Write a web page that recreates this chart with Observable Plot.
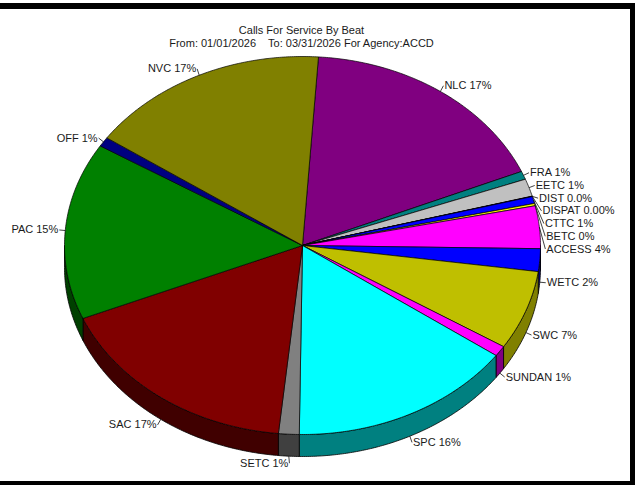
<!DOCTYPE html>
<html>
<head>
<meta charset="utf-8">
<script src="https://cdn.jsdelivr.net/npm/d3@7"></script>
<script src="https://cdn.jsdelivr.net/npm/@observablehq/plot@0.6"></script>
<style>
  html, body { margin: 0; padding: 0; background: #fff; }
  #wrap { position: relative; width: 637px; height: 485px; overflow: hidden; }
  #frame { position: absolute; left: -10px; top: 3px; width: 645px; height: 482px; box-sizing: border-box;
           border-top: 6px solid #000; border-right: 5px solid #000; border-bottom: 4px solid #000; pointer-events: none; }
</style>
</head>
<body>
<div id="wrap"><div id="chart"></div><div id="frame"></div></div>
<script>
// ---- data ----
const beats = ["NLC","FRA","EETC","DIST","DISPAT","CTTC","BETC","ACCESS","WETC","SWC","SUNDAN","SPC","SETC","SAC","PAC","OFF","NVC"];
const shares = [17.53,0.7,1.5,0.03,0.003,0.6,0.2,3.64,1.94,6.78,0.9,15.33,1.4,17.08,15.14,0.81,16.43];
const pctLabels = ["17%","1%","1%","0.0%","0.00%","1%","0%","4%","2%","7%","1%","16%","1%","17%","15%","1%","17%"];
const titleText = "Calls For Service By Beat";
const subtitleText = "From: 01/01/2026\u00a0\u00a0\u00a0 To: 03/31/2026 For Agency:ACCD";

// ---- styles ----
const baseColors = {NLC:"#800080", FRA:"#008080", EETC:"#c0c0c0", DIST:"#ff0000", DISPAT:"#00ff00", CTTC:"#0000ff",
  BETC:"#ffff00", ACCESS:"#ff00ff", WETC:"#0000ff", SWC:"#ffff00", SUNDAN:"#ff00ff", SPC:"#00ffff", SETC:"#808080",
  SAC:"#800000", PAC:"#008000", OFF:"#000080", NVC:"#808000"};
const topFill = name => name === "SWC" ? "url(#swcPattern)" : baseColors[name];
const sideFill = name => { const c = d3.rgb(baseColors[name]); return d3.rgb(c.r/2, c.g/2, c.b/2).formatHex(); };

// ---- layout ----
const W = 637, H = 485, CX = 302, CY = 245, RX = 238, RY = 189, DEPTH = 22, START = 3.85;
const rad = d => d * Math.PI / 180;
const P = (deg, off = 0) => ({x: CX + RX * Math.sin(rad(deg)), y: CY - RY * Math.cos(rad(deg)) + off});
const total = d3.sum(shares);
let acc = START;
const slices = beats.map((name, i) => {
  const a0 = acc, a1 = acc + shares[i] / total * 360; acc = a1;
  return {name, i, a0, a1, mid: (a0 + a1) / 2};
});
function arc(a0, a1, off) {
  const n = Math.max(1, Math.ceil((a1 - a0) / 0.5));
  return d3.range(n + 1).map(k => P(a0 + (a1 - a0) * k / n, off));
}
const sidePts = [];
slices.forEach(s => {
  const b0 = Math.max(s.a0, 90), b1 = Math.min(s.a1, 270);
  if (b1 <= b0) return;
  const pts = [...arc(b0, b1, 0), ...arc(b0, b1, DEPTH).reverse()];
  pts.push(pts[0]);
  pts.forEach(p => sidePts.push({...p, id: s.name, fill: sideFill(s.name)}));
});
const topPts = [];
slices.forEach(s => {
  const c = {x: CX, y: CY};
  const pts = [c, ...arc(s.a0, s.a1, 0), c];
  pts.forEach(p => topPts.push({...p, id: s.name, fill: topFill(s.name)}));
});

// labels
const labels = slices.map(s => {
  const m = ((s.mid % 360) + 360) % 360;
  const front = m > 90 && m < 270;
  const a = P(m, front ? DEPTH : 0);
  const sx = Math.sin(rad(m)), cy = Math.cos(rad(m));
  return {name: s.name, text: s.name + " " + pctLabels[s.i], m, right: sx > 0, ax: a.x, ay: a.y,
          lx: a.x + 7 * sx, ly: a.y - 7 * cy};
});
const ellX = (y, side) => {
  const yy = y > CY ? y - DEPTH : y;
  const t = Math.min(1, Math.abs((CY - yy) / RY));
  return CX + side * RX * Math.sqrt(1 - t * t);
};
const GAP = 12.7;
const rightL = labels.filter(d => d.right).sort((a, b) => a.m - b.m);
let prev = -Infinity;
rightL.forEach(d => {
  if (d.ly < prev + GAP) { d.ly = prev + GAP; d.lx = Math.max(d.lx, ellX(d.ly, 1) + 6); }
  prev = d.ly;
});
const leftL = labels.filter(d => !d.right).sort((a, b) => b.m - a.m);
prev = -Infinity;
leftL.forEach(d => {
  if (d.ly < prev + GAP) { d.ly = prev + GAP; d.lx = Math.min(d.lx, ellX(d.ly, -1) - 6); }
  prev = d.ly;
});
labels.forEach(d => { d.ex = d.right ? d.lx - 1 : d.lx + 1; });

const chart = Plot.plot({
  width: W, height: H, margin: 0,
  style: {fontFamily: "'Liberation Sans', Arial, sans-serif", fontSize: "11px", background: "transparent", overflow: "visible"},
  x: {domain: [0, W], range: [0, W], axis: null},
  y: {domain: [0, H], range: [0, H], axis: null},
  color: {type: "identity"},
  marks: [
    Plot.line(sidePts, {x: "x", y: "y", z: "id", fill: "fill", stroke: "#000", strokeWidth: 0.8, curve: "linear"}),
    Plot.line(topPts, {x: "x", y: "y", z: "id", fill: "fill", stroke: "#000", strokeWidth: 0.7, curve: "linear"}),
    Plot.link(labels, {x1: "ax", y1: "ay", x2: "ex", y2: "ly", stroke: "#111", strokeWidth: 0.8}),
    Plot.text(labels.filter(d => d.right), {x: "lx", y: "ly", text: "text", textAnchor: "start", fill: "#1a1a1a", fontSize: 11}),
    Plot.text(labels.filter(d => !d.right), {x: "lx", y: "ly", text: "text", textAnchor: "end", fill: "#1a1a1a", fontSize: 11}),
    Plot.text([titleText + "\n" + subtitleText], {frameAnchor: "top", lineAnchor: "top", dy: 24, dx: -17.5, lineHeight: 1.2, fill: "#1a1a1a", fontSize: 11})
  ]
});
const ns = "http://www.w3.org/2000/svg";
const defs = document.createElementNS(ns, "defs");
defs.innerHTML = '<pattern id="swcPattern" width="2" height="2" patternUnits="userSpaceOnUse"><rect width="2" height="2" fill="#ffff00"/><rect width="1" height="1" fill="#000"/></pattern>';
chart.insertBefore(defs, chart.firstChild);
document.getElementById("chart").appendChild(chart);
</script>
</body>
</html>
